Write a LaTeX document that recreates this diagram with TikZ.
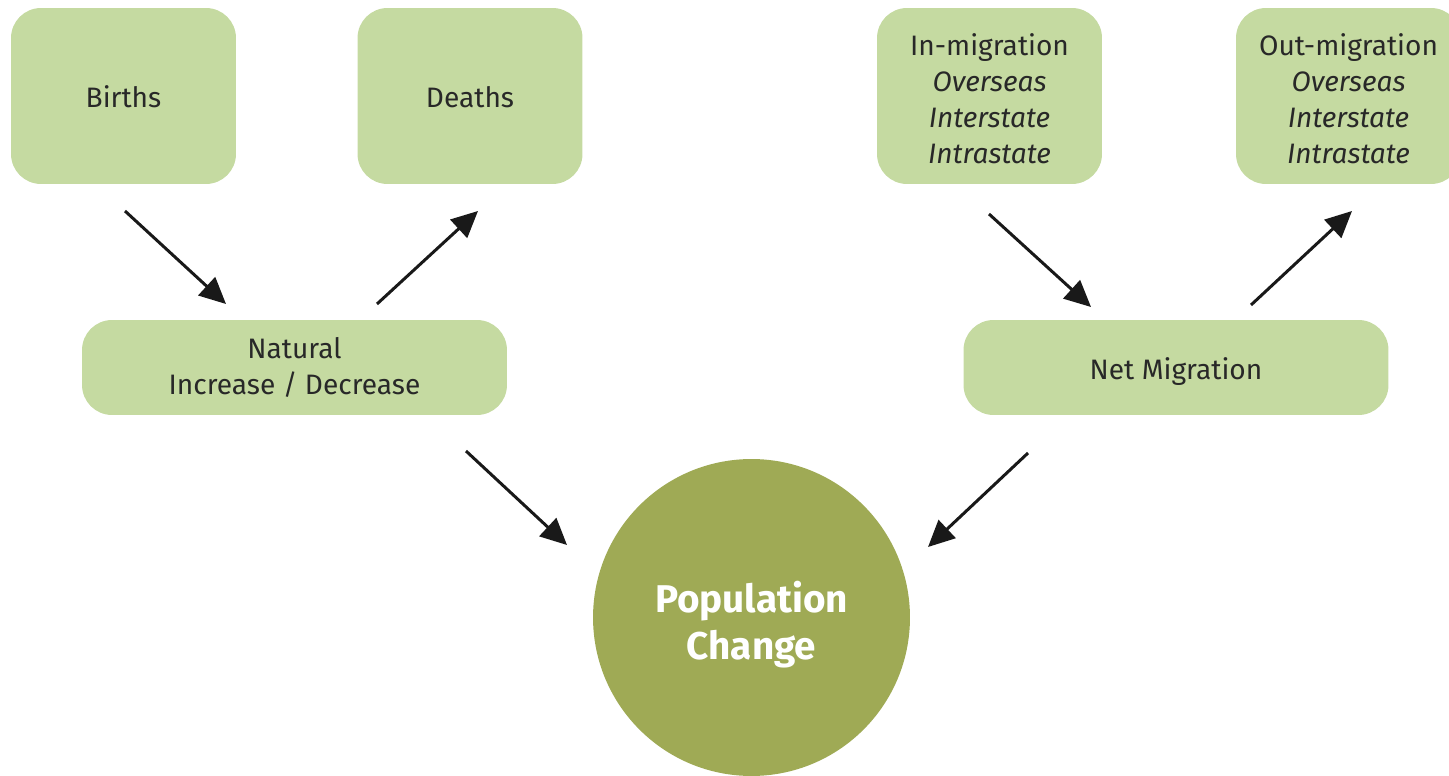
\documentclass[tikz,border=0pt]{standalone}
\usepackage{fontspec}
\setmainfont{Fira Sans}
\usetikzlibrary{arrows.meta}
\definecolor{boxgreen}{RGB}{197,218,161}
\definecolor{circgreen}{RGB}{159,170,85}
\definecolor{txt}{RGB}{40,40,40}
\tikzset{
  box/.style={rectangle, rounded corners=0.6cm, fill=boxgreen, draw=none, inner sep=0pt},
  boxtext/.style={text=txt, align=center, inner sep=0pt, font=\fontsize{16}{20.5}\selectfont},
  arr/.style={draw=black!90, line width=1.7pt, -{Triangle[length=15pt,width=14pt]}},
}
\begin{document}
\begin{tikzpicture}[x=0.02cm, y=-0.02cm]
\useasboundingbox (0,0) rectangle (1449,776);
\begin{scope}
\clip (0,0) rectangle (1449,776);
\node[box, minimum width=4.5cm, minimum height=3.52cm] (births) at (123.5,96) {};
\node[box, minimum width=4.5cm, minimum height=3.52cm] (deaths) at (470,96) {};
\node[box, minimum width=4.5cm, minimum height=3.52cm] (inmig) at (989.5,96) {};
\node[box, minimum width=4.5cm, minimum height=3.52cm] (outmig) at (1348.5,96) {};
\node[box, minimum width=8.5cm, minimum height=1.9cm] (natural) at (294.5,367.5) {};
\node[box, minimum width=8.5cm, minimum height=1.9cm] (netmig) at (1176,367.5) {};
\node[circle, fill=circgreen, minimum size=6.34cm, inner sep=0pt] (pop) at (751.5,617.5) {};
\end{scope}
\node[boxtext] (birthst) at ([yshift=-0.5pt]births.center) {Births};
\node[boxtext] (deathst) at ([yshift=-0.5pt]deaths.center) {Deaths};
\node[boxtext] (inmigt) at ([yshift=-1.7pt]inmig.center) {In-migration\\\textit{Overseas}\\\textit{Interstate}\\\textit{Intrastate}};
\node[boxtext] (outmigt) at ([yshift=-1.7pt]outmig.center) {Out-migration\\\textit{Overseas}\\\textit{Interstate}\\\textit{Intrastate}};
\node[boxtext] (naturalt) at (natural.center) {Natural\\Increase / Decrease};
\node[boxtext] (netmigt) at ([yshift=-2.3pt]netmig.center) {Net Migration};
\node[text=white, align=center, inner sep=0pt, font=\fontsize{22}{26.5}\selectfont\bfseries] (popt) at ([yshift=-4pt]pop.center) {Population\\Change};
\coordinate (a1s) at (125,211); \coordinate (a1e) at (226,304);
\coordinate (a2s) at (377,304); \coordinate (a2e) at (478,211);
\coordinate (a3s) at (989,214); \coordinate (a3e) at (1091,307);
\coordinate (a4s) at (1251,305); \coordinate (a4e) at (1352,211);
\coordinate (a5s) at (466,451); \coordinate (a5e) at (567,545);
\coordinate (a6s) at (1028,453); \coordinate (a6e) at (928,547);
\draw[arr] (a1s) -- (a1e);
\draw[arr] (a2s) -- (a2e);
\draw[arr] (a3s) -- (a3e);
\draw[arr] (a4s) -- (a4e);
\draw[arr] (a5s) -- (a5e);
\draw[arr] (a6s) -- (a6e);
\end{tikzpicture}
\end{document}
